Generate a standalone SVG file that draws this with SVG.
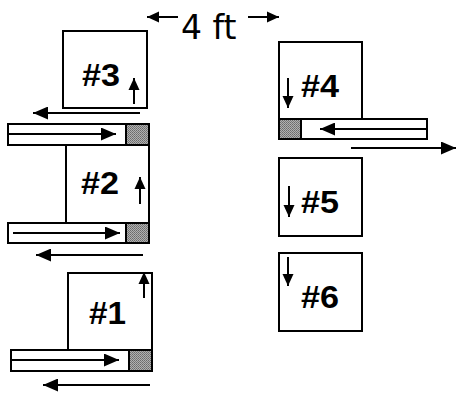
<svg xmlns="http://www.w3.org/2000/svg" width="456" height="394" viewBox="0 0 456 394">
<defs>
<marker id="ah" markerUnits="userSpaceOnUse" markerWidth="15" markerHeight="13" refX="15" refY="6.5" orient="auto">
<path d="M0,0 L15,6.5 L0,13 z" fill="#000"/>
</marker>
<marker id="ahs" markerUnits="userSpaceOnUse" markerWidth="12" markerHeight="12" refX="12" refY="6" orient="auto">
<path d="M0,0.5 L12,6 L0,11.5 z" fill="#000"/>
</marker>
<pattern id="hatch" width="2" height="2" patternUnits="userSpaceOnUse">
<rect width="2" height="2" fill="#b0b0b0"/>
<rect width="1" height="1" fill="#6a6a6a"/>
<rect x="1" y="1" width="1" height="1" fill="#7a7a7a"/>
</pattern>
</defs>
<style>
.box{fill:#fff;stroke:#000;stroke-width:2}
.bar{fill:#fff;stroke:#000;stroke-width:2}
.hat{fill:url(#hatch);stroke:#000;stroke-width:2}
.ar{stroke:#000;stroke-width:2;fill:none;marker-end:url(#ah)}
.as{stroke:#000;stroke-width:2;fill:none;marker-end:url(#ahs)}
.lbl{font-family:"Liberation Sans",Arial,sans-serif;font-weight:bold;font-size:31px;fill:#000}
.dim{font-family:"DejaVu Sans",Verdana,sans-serif;font-size:33px;fill:#000}
</style>
<g id="bar3">
<rect class="bar" x="8" y="124" width="141" height="21"/>
<rect class="hat" x="126" y="124" width="23" height="21"/>
</g>
<g id="node3">
<rect class="box" x="63" y="31" width="84" height="77"/>
<text class="lbl" x="82" y="86" textLength="38" lengthAdjust="spacingAndGlyphs">#3</text>
</g>
<g id="node2">
<rect class="box" x="66" y="145" width="83" height="78"/>
<text class="lbl" x="81" y="194" textLength="38" lengthAdjust="spacingAndGlyphs">#2</text>
</g>
<g id="bar2">
<rect class="bar" x="8" y="223" width="141" height="20"/>
<rect class="hat" x="126" y="223" width="23" height="20"/>
</g>
<g id="node1">
<rect class="box" x="68" y="273" width="84" height="77"/>
<text class="lbl" x="89" y="324" textLength="37" lengthAdjust="spacingAndGlyphs">#1</text>
</g>
<g id="bar1">
<rect class="bar" x="11" y="350" width="141" height="21"/>
<rect class="hat" x="129" y="350" width="23" height="21"/>
</g>
<g id="node4">
<rect class="box" x="279" y="42" width="83" height="77"/>
<text class="lbl" x="301" y="97" textLength="38" lengthAdjust="spacingAndGlyphs">#4</text>
</g>
<g id="bar4">
<rect class="bar" x="279" y="119" width="148" height="20"/>
<rect class="hat" x="279" y="119" width="22" height="20"/>
</g>
<g id="node5">
<rect class="box" x="279" y="158" width="83" height="78"/>
<text class="lbl" x="301" y="213" textLength="38" lengthAdjust="spacingAndGlyphs">#5</text>
</g>
<g id="node6">
<rect class="box" x="279" y="253" width="83" height="78"/>
<text class="lbl" x="301" y="308" textLength="38" lengthAdjust="spacingAndGlyphs">#6</text>
</g>
<g id="dimension">
<text class="dim" x="181" y="39">4 ft</text>
</g>
<g id="connectors">
<line class="as" x1="178" y1="17" x2="147" y2="17"/>
<line class="as" x1="248" y1="17" x2="279" y2="17"/>
<line class="as" x1="134" y1="104" x2="134" y2="78"/>
<line class="ar" x1="140" y1="113" x2="33" y2="113"/>
<line class="ar" x1="9" y1="134" x2="116" y2="134"/>
<line class="as" x1="140" y1="204" x2="140" y2="177"/>
<line class="ar" x1="13" y1="233" x2="120" y2="233"/>
<line class="ar" x1="143" y1="255" x2="36" y2="255"/>
<line class="as" x1="144" y1="298" x2="144" y2="272"/>
<line class="ar" x1="12" y1="360" x2="119" y2="360"/>
<line class="ar" x1="150" y1="385" x2="43" y2="385"/>
<line class="as" x1="288" y1="78" x2="288" y2="108"/>
<line class="ar" x1="427" y1="129" x2="320" y2="129"/>
<line class="ar" x1="351" y1="148" x2="456" y2="148"/>
<line class="as" x1="289" y1="186" x2="289" y2="217"/>
<line class="as" x1="288" y1="257" x2="288" y2="286"/>
</g>
</svg>
